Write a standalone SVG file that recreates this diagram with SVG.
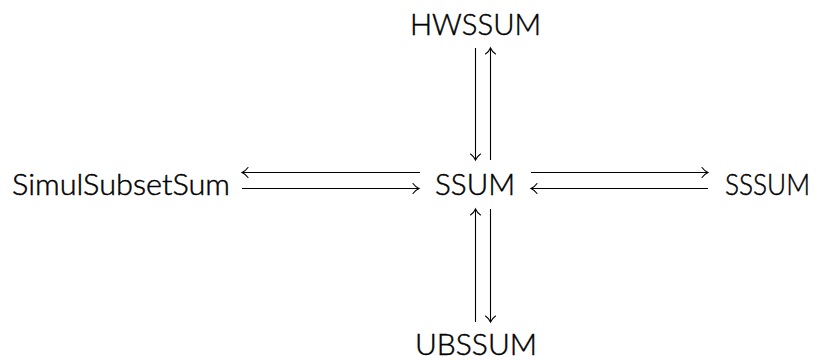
<svg xmlns="http://www.w3.org/2000/svg" width="824" height="360" viewBox="0 0 824 360">
<style>
text{font-family:Lato,"Liberation Sans",Arial,sans-serif;font-size:28.5px;font-weight:300;fill:#000;stroke:#000;stroke-width:0.45}
.c line{stroke:#000;stroke-width:1.1}
.c path{fill:none;stroke:#000;stroke-width:1.1;stroke-linecap:round}
</style>
<rect width="824" height="360" fill="#fff"/>
<g id="hwssum"><text x="410" y="35" textLength="131" lengthAdjust="spacingAndGlyphs">HWSSUM</text></g>
<g id="simulsubsetsum"><text x="12" y="195" textLength="218" lengthAdjust="spacingAndGlyphs">SimulSubsetSum</text></g>
<g id="ssum"><text x="435" y="195" textLength="80" lengthAdjust="spacingAndGlyphs">SSUM</text></g>
<g id="sssum"><text x="725" y="195" textLength="85" lengthAdjust="spacingAndGlyphs">SSSUM</text></g>
<g id="ubssum"><text x="415" y="355" textLength="122" lengthAdjust="spacingAndGlyphs">UBSSUM</text></g>
<g id="connectors" class="c">
<!-- HWSSUM <-> SSUM -->
<line x1="475.5" y1="48" x2="475.5" y2="160"/>
<path d="M470.5 154 Q474 156.5 475.5 160 Q477 156.5 480.5 154"/>
<line x1="490.5" y1="48" x2="490.5" y2="160"/>
<path d="M485.5 54 Q489 51.5 490.5 48 Q492 51.5 495.5 54"/>
<!-- UBSSUM <-> SSUM -->
<line x1="475.5" y1="209" x2="475.5" y2="322"/>
<path d="M470.5 215 Q474 212.5 475.5 209 Q477 212.5 480.5 215"/>
<line x1="490.5" y1="209" x2="490.5" y2="322"/>
<path d="M485.5 316 Q489 318.5 490.5 322 Q492 318.5 495.5 316"/>
<!-- SimulSubsetSum <-> SSUM -->
<line x1="242" y1="172.5" x2="420" y2="172.5"/>
<path d="M248 167.5 Q245.5 171 242 172.5 Q245.5 174 248 177.5"/>
<line x1="242" y1="188.5" x2="419" y2="188.5"/>
<path d="M413 183.5 Q415.5 187 419 188.5 Q415.5 190 413 193.5"/>
<!-- SSUM <-> SSSUM -->
<line x1="531" y1="172.5" x2="708" y2="172.5"/>
<path d="M702 167.5 Q704.5 171 708 172.5 Q704.5 174 702 177.5"/>
<line x1="531" y1="188.5" x2="708" y2="188.5"/>
<path d="M537 183.5 Q534.5 187 531 188.5 Q534.5 190 537 193.5"/>
</g>
</svg>
